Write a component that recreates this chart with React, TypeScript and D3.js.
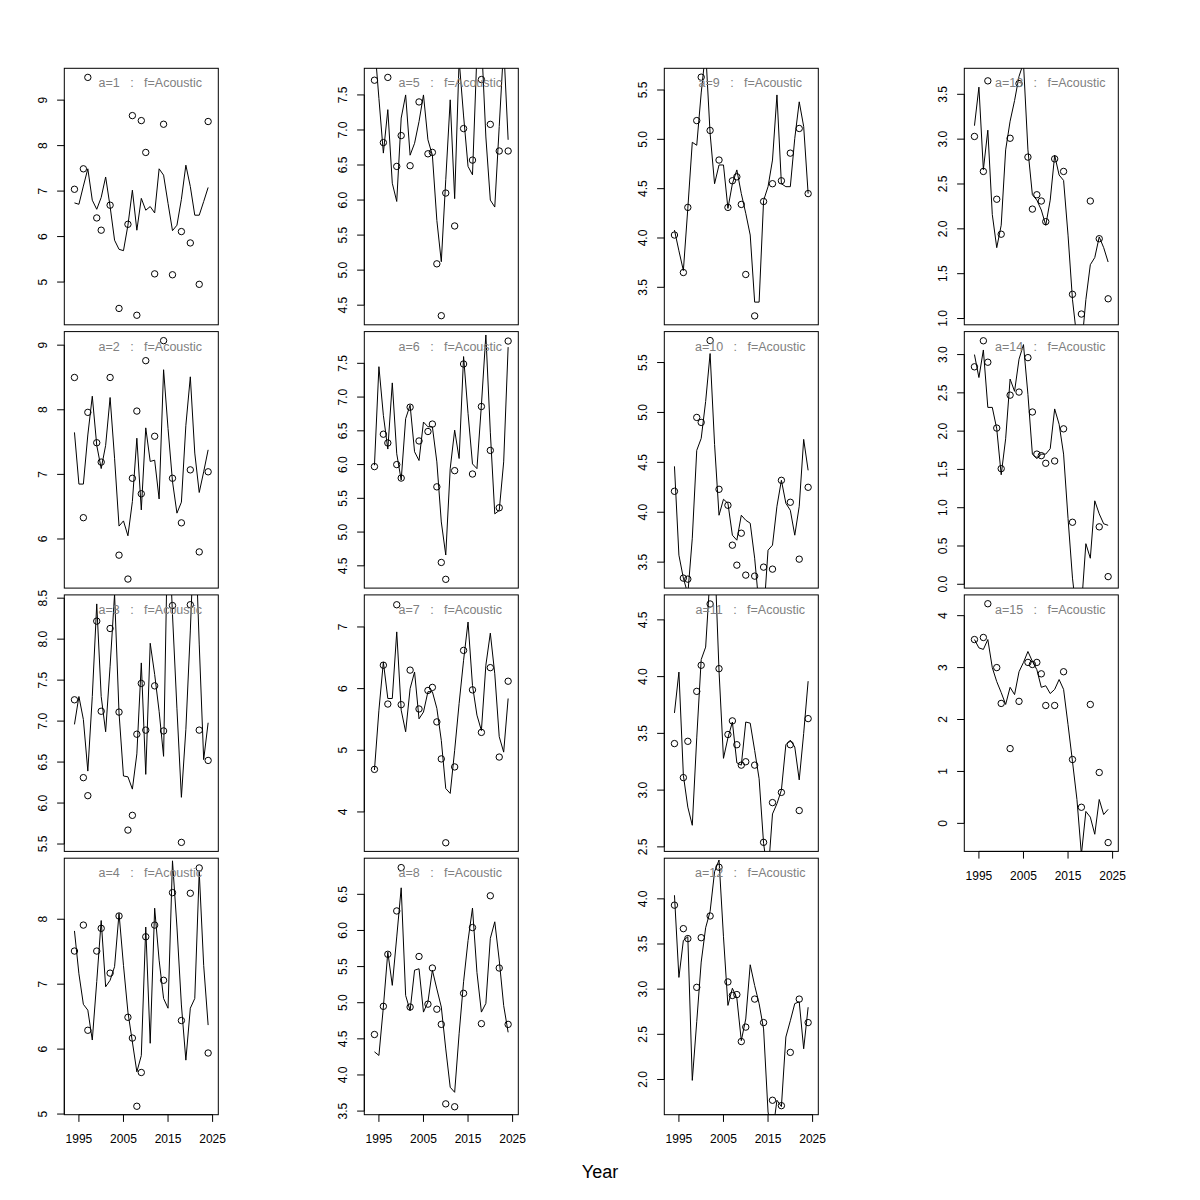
import React from "react";
import * as d3 from "d3";

// ---------- data ----------
const lineYears = [1994, 1995, 1996, 1997, 1998, 1999, 2000, 2001, 2002, 2003, 2004, 2005, 2006, 2007, 2008, 2009, 2010, 2011, 2012, 2013, 2014, 2015, 2016, 2017, 2018, 2019, 2020, 2021, 2022, 2023, 2024];
const pointYears = [1994, 1996, 1997, 1999, 2000, 2002, 2004, 2006, 2007, 2008, 2009, 2010, 2012, 2014, 2016, 2018, 2020, 2022, 2024];

const panelNames = ["a=1", "a=2", "a=3", "a=4", "a=5", "a=6", "a=7", "a=8", "a=9", "a=10", "a=11", "a=12", "a=13", "a=14", "a=15"];
const groupName = "f=Acoustic";
const xAxisTitle = "Year";
const xTicks = [1995, 2005, 2015, 2025];
const xDomain = [1991.72, 2026.28];

const lineA1 = [6.74, 6.71, 7.11, 7.49, 6.8, 6.6, 6.86, 7.31, 6.66, 5.92, 5.72, 5.69, 6.25, 7.02, 6.14, 6.84, 6.58, 6.66, 6.52, 7.49, 7.35, 6.73, 6.13, 6.25, 6.82, 7.57, 7.1, 6.47, 6.47, 6.77, 7.08];
const lineA2 = [7.65, 6.85, 6.85, 7.61, 8.21, 7.45, 7.09, 7.45, 8.19, 7.25, 6.2, 6.28, 6.05, 6.58, 7.56, 6.45, 7.72, 7.2, 7.22, 6.62, 8.62, 7.71, 6.89, 6.4, 6.57, 7.76, 8.51, 7.33, 6.72, 7.04, 7.38];
const lineA3 = [6.96, 7.3, 7.02, 6.39, 7.3, 8.43, 7.3, 6.87, 7.67, 8.55, 7.1, 6.33, 6.32, 6.17, 6.6, 7.71, 6.35, 7.95, 7.57, 7.12, 6.57, 9.6, 8.3, 7.15, 6.07, 6.9, 8.1, 9.5, 7.94, 6.53, 6.98];
const lineA4 = [7.82, 7.16, 6.69, 6.6, 6.14, 7.04, 7.98, 6.96, 7.06, 7.27, 8.09, 7.29, 6.57, 6.11, 5.65, 5.9, 7.88, 6.09, 8.17, 7.37, 6.78, 6.63, 8.9, 7.88, 6.68, 5.83, 6.63, 6.78, 8.73, 7.29, 6.37];
const lineA5 = [8.25, 7.45, 6.67, 7.29, 6.24, 5.98, 7.17, 7.5, 6.64, 6.81, 7.12, 7.5, 6.86, 6.64, 5.71, 5.12, 6.29, 7.43, 6.02, 8.0, 7.2, 6.48, 6.36, 8.1, 8.3, 6.9, 6.0, 5.9, 7.05, 8.2, 6.86];
const lineA6 = [5.99, 7.45, 6.73, 6.23, 7.21, 6.16, 5.77, 6.68, 6.88, 6.19, 6.06, 6.63, 6.56, 6.56, 6.04, 5.15, 4.66, 5.94, 6.51, 6.09, 7.6, 6.76, 6.01, 5.94, 6.88, 7.92, 6.48, 5.27, 5.32, 6.04, 7.74];
const lineA7 = [4.68, 5.65, 6.43, 5.84, 5.84, 6.92, 5.65, 5.3, 6.0, 6.27, 5.51, 5.62, 5.95, 5.95, 5.68, 5.16, 4.38, 4.3, 5.0, 5.76, 6.46, 7.08, 6.05, 5.57, 5.32, 6.38, 6.9, 6.24, 5.22, 4.97, 5.84];
const lineA8 = [4.32, 4.27, 4.94, 5.7, 5.24, 5.91, 6.59, 5.1, 4.89, 5.45, 5.47, 4.87, 5.01, 5.45, 5.19, 4.94, 4.36, 3.83, 3.76, 4.57, 5.29, 5.86, 6.31, 5.42, 4.87, 4.99, 5.89, 6.12, 5.59, 4.96, 4.59];
const lineA9 = [4.08, 3.87, 3.67, 4.3, 4.97, 4.94, 5.47, 5.9, 5.06, 4.55, 4.74, 4.74, 4.3, 4.55, 4.69, 4.45, 4.25, 4.03, 3.35, 3.35, 4.38, 4.52, 4.79, 5.45, 4.55, 4.52, 4.52, 5.01, 5.38, 5.13, 4.45];
const lineA10 = [4.46, 3.57, 3.34, 3.18, 3.74, 4.62, 4.74, 5.11, 5.59, 4.68, 3.97, 4.13, 4.09, 3.77, 3.72, 3.97, 3.92, 3.89, 3.54, 3.05, 2.96, 3.62, 3.67, 4.06, 4.32, 4.09, 4.02, 3.77, 4.06, 4.73, 4.42];
const lineA11 = [3.68, 4.04, 3.13, 2.85, 2.69, 3.46, 4.15, 4.26, 4.9, 5.1, 4.05, 3.28, 3.46, 3.6, 3.24, 3.22, 3.6, 3.59, 3.35, 3.1, 2.53, 2.25, 2.79, 2.88, 3.0, 3.4, 3.44, 3.38, 3.09, 3.5, 3.96];
const lineA12 = [4.04, 3.13, 3.54, 3.58, 1.99, 2.64, 3.3, 3.68, 3.86, 4.3, 4.43, 3.58, 2.82, 3.01, 2.9, 2.43, 2.67, 3.27, 3.04, 2.84, 2.56, 1.64, 1.4, 1.77, 1.7, 2.47, 2.65, 2.84, 2.86, 2.34, 2.8];
const lineA13 = [3.15, 3.58, 2.66, 3.1, 2.16, 1.79, 2.04, 2.88, 3.2, 3.43, 3.7, 3.85, 2.88, 2.38, 2.32, 2.21, 2.04, 2.32, 2.82, 2.6, 2.54, 1.93, 1.21, 0.77, 0.66, 1.21, 1.6, 1.68, 1.91, 1.79, 1.63];
const lineA14 = [3.0, 2.7, 3.06, 2.31, 2.31, 2.03, 1.43, 1.9, 2.68, 2.52, 2.94, 3.13, 2.48, 1.7, 1.64, 1.7, 1.7, 1.77, 2.29, 2.09, 1.7, 0.86, 0.08, -0.44, -0.3, 0.53, 0.34, 1.09, 0.92, 0.79, 0.77];
const lineA15 = [3.54, 3.38, 3.35, 3.54, 3.0, 2.73, 2.52, 2.29, 2.62, 2.48, 2.92, 3.1, 3.31, 3.12, 2.96, 2.62, 2.65, 2.5, 2.58, 2.77, 2.58, 1.9, 1.19, 0.46, -0.6, 0.23, 0.12, -0.21, 0.46, 0.17, 0.27];

const pointsA1 = [7.04, 7.49, 9.5, 6.41, 6.14, 6.69, 4.42, 6.27, 8.66, 4.27, 8.55, 7.85, 5.18, 8.47, 5.16, 6.11, 5.86, 4.95, 8.53];
const pointsA2 = [8.5, 6.33, 7.96, 7.49, 7.19, 8.5, 5.75, 5.38, 6.94, 7.98, 6.7, 8.76, 7.59, 9.07, 6.94, 6.25, 7.07, 5.8, 7.04];
const pointsA3 = [7.26, 6.31, 6.09, 8.22, 7.12, 8.13, 7.11, 5.67, 5.85, 6.84, 7.46, 6.89, 7.43, 6.88, 8.41, 5.52, 8.42, 6.89, 6.52];
const pointsA4 = [7.51, 7.91, 6.29, 7.51, 7.86, 7.17, 8.05, 6.49, 6.17, 5.12, 5.64, 7.73, 7.91, 7.06, 8.41, 6.44, 8.4, 8.79, 5.94];
const pointsA5 = [7.71, 6.82, 7.75, 6.48, 6.92, 6.49, 7.4, 6.66, 6.68, 5.09, 4.35, 6.1, 5.63, 7.02, 6.57, 7.72, 7.08, 6.7, 6.7];
const pointsA6 = [5.97, 6.45, 6.32, 6.0, 5.8, 6.85, 6.35, 6.49, 6.6, 5.67, 4.55, 4.3, 5.91, 7.49, 5.86, 6.86, 6.21, 5.36, 7.83];
const pointsA7 = [4.69, 6.38, 5.75, 7.36, 5.74, 6.3, 5.67, 5.97, 6.02, 5.46, 4.86, 3.5, 4.73, 6.62, 5.98, 5.29, 6.34, 4.89, 6.12];
const pointsA8 = [4.56, 4.95, 5.67, 6.27, 6.87, 4.94, 5.64, 4.98, 5.48, 4.91, 4.7, 3.6, 3.56, 5.13, 6.04, 4.71, 6.48, 5.48, 4.7];
const pointsA9 = [4.03, 3.65, 4.31, 5.19, 5.63, 5.09, 4.79, 4.31, 4.58, 4.62, 4.34, 3.63, 3.21, 4.37, 4.55, 4.58, 4.86, 5.11, 4.45];
const pointsA10 = [4.21, 3.34, 3.33, 4.95, 4.9, 5.72, 4.23, 4.07, 3.67, 3.47, 3.79, 3.37, 3.36, 3.45, 3.43, 4.32, 4.1, 3.53, 4.25];
const pointsA11 = [3.41, 3.11, 3.43, 3.87, 4.1, 4.64, 4.07, 3.49, 3.61, 3.4, 3.22, 3.25, 3.22, 2.54, 2.89, 2.98, 3.4, 2.82, 3.63];
const pointsA12 = [3.93, 3.67, 3.56, 3.02, 3.57, 3.81, 4.35, 3.08, 2.93, 2.94, 2.42, 2.58, 2.89, 2.63, 1.77, 1.71, 2.3, 2.89, 2.63];
const pointsA13 = [3.03, 2.64, 3.65, 2.33, 1.94, 3.01, 3.62, 2.8, 2.22, 2.38, 2.31, 2.08, 2.78, 2.64, 1.27, 1.05, 2.31, 1.89, 1.22];
const pointsA14 = [2.84, 3.18, 2.9, 2.04, 1.51, 2.47, 2.51, 2.96, 2.25, 1.7, 1.68, 1.58, 1.61, 2.03, 0.81, -0.3, -0.2, 0.75, 0.1];
const pointsA15 = [3.54, 3.58, 4.23, 3.0, 2.31, 1.44, 2.35, 3.1, 3.06, 3.1, 2.88, 2.27, 2.27, 2.92, 1.23, 0.31, 2.29, 0.98, -0.37];

const yLow = [4.06, 5.24, 5.41, 4.99, 4.22, 4.17, 3.36, 3.45, 3.12, 3.24, 2.46, 1.61, 0.93, -0.05, -0.54];
const yHigh = [9.7, 9.21, 8.54, 8.94, 7.88, 7.97, 7.52, 7.0, 5.72, 5.81, 4.72, 4.45, 3.79, 3.3, 4.4];
const yTicks = [
  [5, 6, 7, 8, 9],
  [6, 7, 8, 9],
  [5.5, 6, 6.5, 7, 7.5, 8, 8.5],
  [5, 6, 7, 8],
  [4.5, 5, 5.5, 6, 6.5, 7, 7.5],
  [4.5, 5, 5.5, 6, 6.5, 7, 7.5],
  [4, 5, 6, 7],
  [3.5, 4, 4.5, 5, 5.5, 6, 6.5],
  [3.5, 4, 4.5, 5, 5.5],
  [3.5, 4, 4.5, 5, 5.5],
  [2.5, 3, 3.5, 4, 4.5],
  [2, 2.5, 3, 3.5, 4],
  [1, 1.5, 2, 2.5, 3, 3.5],
  [0, 0.5, 1, 1.5, 2, 2.5, 3],
  [0, 1, 2, 3, 4],
];

const lineSeries = [lineA1, lineA2, lineA3, lineA4, lineA5, lineA6, lineA7, lineA8, lineA9, lineA10, lineA11, lineA12, lineA13, lineA14, lineA15];
const pointSeries = [pointsA1, pointsA2, pointsA3, pointsA4, pointsA5, pointsA6, pointsA7, pointsA8, pointsA9, pointsA10, pointsA11, pointsA12, pointsA13, pointsA14, pointsA15];

// ---------- layout ----------
const FONT = "'Liberation Sans', Arial, Helvetica, sans-serif";
const colLeft = [64.3, 364.3, 664.3, 964.3];
const rowTop = [68.3, 331.6, 594.9, 858.2];
const PW = 154;
const PH = 256.5;
const TICK = 7.2;

function Panel({ i }: { i: number }) {
  const col = i < 12 ? Math.floor(i / 4) : 3;
  const row = i < 12 ? i % 4 : i - 12;
  const left = colLeft[col];
  const top = rowTop[row];
  const isBottom = (col < 3 && row === 3) || (col === 3 && row === 2);

  const x = d3.scaleLinear().domain(xDomain).range([left, left + PW]);
  const y = d3.scaleLinear().domain([yLow[i], yHigh[i]]).range([top + PH, top]);
  const ticks = yTicks[i];
  const fmt = ticks.some((t) => !Number.isInteger(t)) ? d3.format(".1f") : d3.format("d");

  const lineGen = d3
    .line<number>()
    .x((_, k) => x(lineYears[k]))
    .y((v) => y(v));

  const clipId = `clip-${i}`;
  const bottom = top + PH;

  return (
    <g>
      <defs>
        <clipPath id={clipId}>
          <rect x={left} y={top} width={PW} height={PH} />
        </clipPath>
      </defs>
      <g clipPath={`url(#${clipId})`}>
        <path d={lineGen(lineSeries[i]) || ""} fill="none" stroke="#000" strokeWidth={1} />
        {pointSeries[i].map((v, k) => (
          <circle key={k} cx={x(pointYears[k])} cy={y(v)} r={3.2} fill="none" stroke="#000" strokeWidth={1} />
        ))}
      </g>
      <text
        x={left + 86}
        y={top + 19}
        textAnchor="middle"
        fontFamily={FONT}
        fontSize={12.5}
        fill="#808080"
        style={{ whiteSpace: "pre" }}
      >
        {`${panelNames[i]}   :   ${groupName}`}
      </text>
      <rect x={left} y={top} width={PW} height={PH} fill="none" stroke="#000" strokeWidth={1} />
      {/* y axis */}
      <line x1={left} x2={left} y1={y(ticks[0])} y2={y(ticks[ticks.length - 1])} stroke="#000" />
      {ticks.map((t) => (
        <g key={t}>
          <line x1={left - TICK} x2={left} y1={y(t)} y2={y(t)} stroke="#000" />
          <text
            transform={`translate(${left - 17.5},${y(t)}) rotate(-90)`}
            textAnchor="middle"
            fontFamily={FONT}
            fontSize={12}
            fill="#000"
          >
            {fmt(t)}
          </text>
        </g>
      ))}
      {isBottom && (
        <g>
          <line x1={x(xTicks[0])} x2={x(xTicks[xTicks.length - 1])} y1={bottom} y2={bottom} stroke="#000" />
          {xTicks.map((t) => (
            <g key={t}>
              <line x1={x(t)} x2={x(t)} y1={bottom} y2={bottom + TICK} stroke="#000" />
              <text x={x(t)} y={bottom + 28.5} textAnchor="middle" fontFamily={FONT} fontSize={12} fill="#000">
                {t}
              </text>
            </g>
          ))}
        </g>
      )}
    </g>
  );
}

export default function App() {
  return (
    <svg
      width={1200}
      height={1200}
      viewBox="0 0 1200 1200"
      style={{ position: "absolute", left: 0, top: 0, display: "block" }}
    >
      <rect x={0} y={0} width={1200} height={1200} fill="#fff" />
      {lineSeries.map((_, i) => (
        <Panel key={i} i={i} />
      ))}
      <text x={600} y={1178} textAnchor="middle" fontFamily={FONT} fontSize={18} fill="#000">
        {xAxisTitle}
      </text>
    </svg>
  );
}
